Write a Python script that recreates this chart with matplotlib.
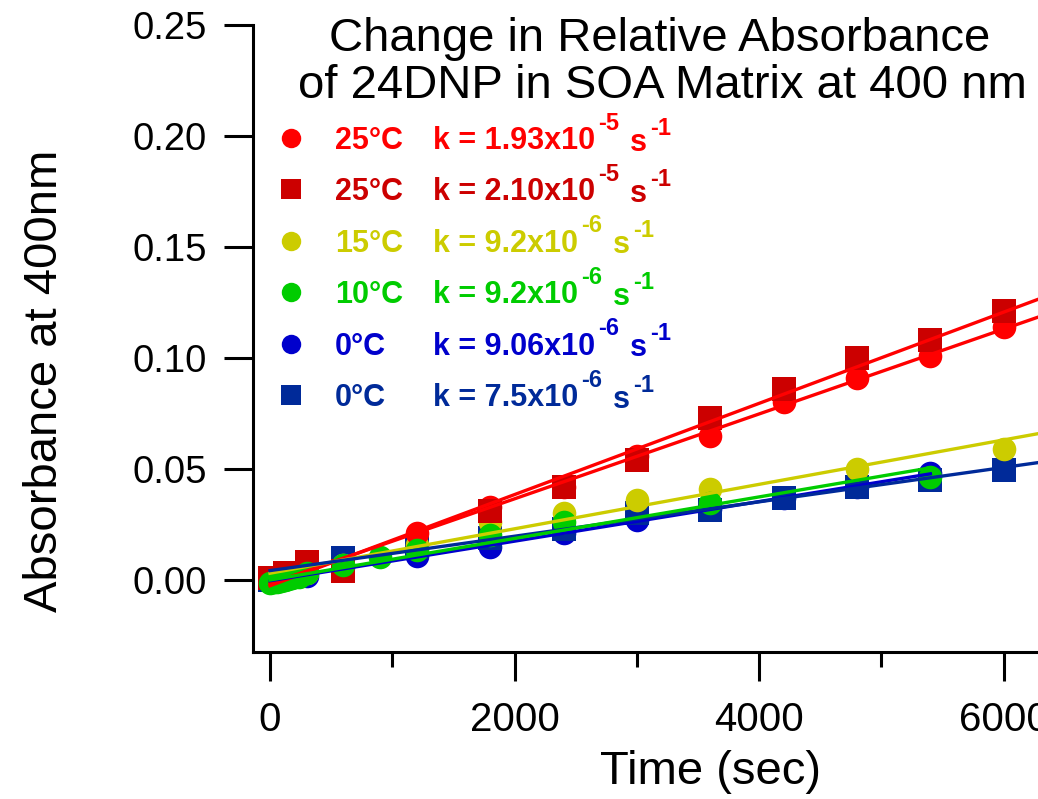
import numpy as np
import matplotlib
matplotlib.use("Agg")
import matplotlib.pyplot as plt
from matplotlib.ticker import MultipleLocator, FormatStrFormatter

plt.rcParams["font.family"] = ["Liberation Sans", "DejaVu Sans"]

# data (time in s, absorbance at 400 nm)
t_red_circ = [0, 1200, 1800, 2400, 3000, 3600, 4200, 4800, 5400, 6000]
a_red_circ = [0.000, 0.021, 0.033, 0.042, 0.056, 0.065, 0.080, 0.091, 0.101, 0.114]

t_red_sq = [0, 120, 300, 600, 1800, 2400, 3000, 3600, 4200, 4800, 5400, 6000]
a_red_sq = [0.001, 0.003, 0.008, 0.004, 0.031, 0.042, 0.054, 0.073, 0.086, 0.100, 0.108, 0.121]

t_yellow = [0, 300, 600, 1200, 1800, 2400, 3000, 3600, 4800, 6000]
a_yellow = [0.000, 0.003, 0.007, 0.016, 0.026, 0.030, 0.036, 0.041, 0.050, 0.059]

t_green = [0, 30, 60, 90, 120, 150, 180, 240, 300, 600, 900, 1200, 1800, 2400, 3600, 5400]
a_green = [-0.0015, -0.0010, -0.0008, -0.0003, 0.0000, 0.0004, 0.0008, 0.0015, 0.0030,
           0.0068, 0.0104, 0.0135, 0.0203, 0.0260, 0.0347, 0.0464]

t_blue_circ = [0, 300, 600, 1200, 1800, 2400, 3000, 3600, 4200, 4800, 5400]
a_blue_circ = [-0.001, 0.002, 0.006, 0.011, 0.015, 0.021, 0.027, 0.032, 0.037, 0.042, 0.048]

t_blue_sq = [0, 300, 600, 1200, 1800, 2400, 3000, 3600, 4200, 4800, 5400, 6000]
a_blue_sq = [0.000, 0.007, 0.010, 0.015, 0.019, 0.023, 0.030, 0.0315, 0.037, 0.042, 0.045, 0.0495]

temps = ["25°C", "25°C", "15°C", "10°C", "0°C", "0°C"]
k_vals = ["1.93x10", "2.10x10", "9.2x10", "9.2x10", "9.06x10", "7.5x10"]
k_exps = ["-5", "-5", "-6", "-6", "-6", "-6"]

series = [
    (t_red_circ, a_red_circ, "o", "#ff0000", "#ff0000", 5),
    (t_red_sq, a_red_sq, "s", "#cc0000", "#ff0000", 6),
    (t_yellow, a_yellow, "o", "#cccc00", "#cccc00", 4),
    (t_green, a_green, "o", "#00cc00", "#00cc00", 9),
    (t_blue_circ, a_blue_circ, "o", "#0000cc", "#0000cc", 2),
    (t_blue_sq, a_blue_sq, "s", "#002a99", "#002a99", 3),
]

W, H = 1038, 799
fig = plt.figure(figsize=(W / 100, H / 100), dpi=100)
ax_l, ax_r, ax_t, ax_b = 253, 1038, 25, 652
ax = fig.add_axes([ax_l / W, 1 - ax_b / H, (ax_r - ax_l) / W, (ax_b - ax_t) / H])

xmin, xmax = -139, 6280
ax.set_xlim(xmin, xmax)
ax.set_ylim(-0.0324, 0.25)

for t, a, mk, mcol, lcol, z in series:
    t = np.array(t, dtype=float)
    a = np.array(a)
    ax.plot(t, a, linestyle="none", marker=mk, ms=17, color=mcol,
            markeredgewidth=0, zorder=z)
    slope, icpt = np.polyfit(t, a, 1)
    t_end = t.max() if t.max() < 6000 else xmax + 200
    tt = np.array([t.min(), t_end])
    lz = 10 if mcol != "#00cc00" else 11
    ax.plot(tt, slope * tt + icpt, color=lcol, lw=2.4, zorder=lz)

# axes styling
for s in ["top", "right"]:
    ax.spines[s].set_visible(False)
for s in ["left", "bottom"]:
    ax.spines[s].set_linewidth(2.2)

ax.xaxis.set_major_locator(MultipleLocator(2000))
ax.xaxis.set_minor_locator(MultipleLocator(1000))
ax.yaxis.set_major_locator(MultipleLocator(0.05))
ax.yaxis.set_major_formatter(FormatStrFormatter("%.2f"))
ax.tick_params(axis="both", which="major", direction="out", width=2.2, length=21)
ax.tick_params(axis="x", which="major", labelsize=29, pad=14)
ax.tick_params(axis="y", which="major", labelsize=27.5, pad=12)
ax.tick_params(axis="x", which="minor", direction="out", width=2.2, length=11)

# legend-like annotation
def to_ax(px, py):
    return (px - ax_l) / (ax_r - ax_l), (ax_b - py) / (ax_b - ax_t)

row0, dy = 138, 51.4
for i, (t, a, mk, mcol, lcol, z) in enumerate(series):
    yc = row0 + i * dy
    mx, my = to_ax(291, yc)
    ax.plot([mx], [my], marker=mk, ms=14, color=mcol, markeredgewidth=0,
            transform=ax.transAxes, clip_on=False, linestyle="none")
    tx, ty = to_ax(335, yc + 11)
    ax.text(tx, ty, temps[i], transform=ax.transAxes, color=mcol, fontsize=22,
            fontweight="bold", ha="left", va="baseline")
    kx, ky = to_ax(433, yc + 11)
    main = ax.text(kx, ky, "k = " + k_vals[i], transform=ax.transAxes, color=mcol,
                   fontsize=22, fontweight="bold", ha="left", va="baseline")
    # superscripts chained on the previous piece
    sup = ax.annotate(k_exps[i], xy=(1, 0), xycoords=main, xytext=(2, 19),
                      textcoords="offset points", color=mcol, fontsize=17,
                      fontweight="bold", ha="left", va="baseline")
    unit = ax.annotate("s", xy=(1, 0), xycoords=sup, xytext=(8, -11.5),
                       textcoords="offset points", color=mcol, fontsize=22,
                       fontweight="bold", ha="left", va="baseline")
    ax.annotate("-1", xy=(1, 0), xycoords=unit, xytext=(2, 16.5),
                textcoords="offset points", color=mcol, fontsize=17,
                fontweight="bold", ha="left", va="baseline")

fig.text(660 / W, 1 - 51 / H, "Change in Relative Absorbance", fontsize=34,
         ha="center", va="baseline")
fig.text(662 / W, 1 - 98 / H, "of 24DNP in SOA Matrix at 400 nm", fontsize=34,
         ha="center", va="baseline")
fig.text(45 / W, 1 - 381 / H, "Absorbance at 400nm", fontsize=34, rotation=90,
         ha="center", va="center")
fig.text(710 / W, 1 - 772 / H, "Time (sec)", fontsize=34, ha="center", va="center")

fig.savefig("out.png", dpi=100)
